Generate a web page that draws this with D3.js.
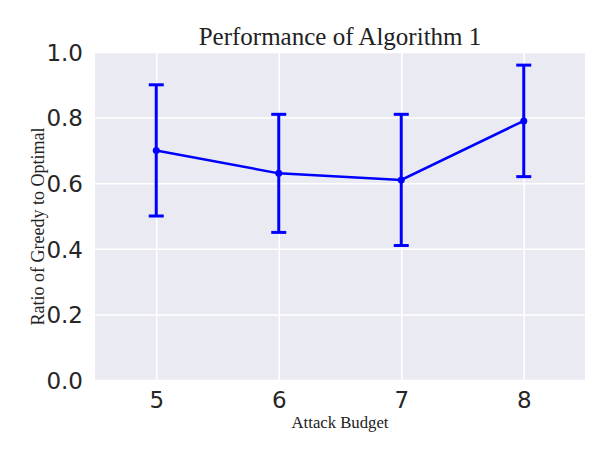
<!DOCTYPE html>
<html><head><meta charset="utf-8">
<script src="https://cdn.jsdelivr.net/npm/d3@7"></script>
<style>body{margin:0;background:#fff}</style>
</head><body>
<svg id="c" width="613" height="460"></svg>
<script>
const budgets = [5, 6, 7, 8];
const ratios = [0.70, 0.63, 0.61, 0.79];
const errLow = [0.50, 0.45, 0.41, 0.62];
const errHigh = [0.90, 0.81, 0.81, 0.96];
const yTicks = [0.0, 0.2, 0.4, 0.6, 0.8, 1.0];
const xTicks = [5, 6, 7, 8];

const svg = d3.select("#c");
const m = {l: 95, r: 585, t: 52, b: 380};
const x = d3.scaleLinear().domain([4.5, 8.5]).range([m.l, m.r]);
const y = d3.scaleLinear().domain([0, 1]).range([m.b, m.t]);

svg.append("rect").attr("x", m.l).attr("y", m.t).attr("width", m.r - m.l).attr("height", m.b - m.t).attr("fill", "#eaeaf2");

const gx = svg.append("g").attr("transform", `translate(0,${m.b})`)
  .call(d3.axisBottom(x).tickValues(xTicks).tickFormat(d3.format("d")).tickSize(-(m.b - m.t)).tickPadding(12));
const gy = svg.append("g").attr("transform", `translate(${m.l},0)`)
  .call(d3.axisLeft(y).tickValues(yTicks).tickFormat(d3.format(".1f")).tickSize(-(m.r - m.l)).tickPadding(12));
[gx, gy].forEach(g => {
  g.select(".domain").remove();
  g.selectAll(".tick line").attr("stroke", "#fff").attr("stroke-width", 1.5);
  g.selectAll(".tick text").attr("fill", "#262626").style("font-family", "DejaVu Sans").style("font-size", "23px");
});
gy.selectAll(".tick text").attr("dy", "0.36em");

const blue = "#0000ff";
const data = budgets.map((b, i) => ({b, v: ratios[i], lo: errLow[i], hi: errHigh[i]}));
svg.append("path").datum(data)
  .attr("d", d3.line().x(d => x(d.b)).y(d => y(d.v)))
  .attr("fill", "none").attr("stroke", blue).attr("stroke-width", 2.5);
const eb = svg.append("g").attr("stroke", blue).attr("stroke-width", 3);
eb.selectAll(".v").data(data).join("line")
  .attr("x1", d => x(d.b)).attr("x2", d => x(d.b)).attr("y1", d => y(d.lo)).attr("y2", d => y(d.hi));
eb.selectAll(".ct").data(data).join("line")
  .attr("x1", d => x(d.b) - 7.5).attr("x2", d => x(d.b) + 7.5).attr("y1", d => y(d.hi)).attr("y2", d => y(d.hi));
eb.selectAll(".cb").data(data).join("line")
  .attr("x1", d => x(d.b) - 7.5).attr("x2", d => x(d.b) + 7.5).attr("y1", d => y(d.lo)).attr("y2", d => y(d.lo));
svg.append("g").selectAll("circle").data(data).join("circle")
  .attr("cx", d => x(d.b)).attr("cy", d => y(d.v)).attr("r", 3.5).attr("fill", blue);

svg.append("text").attr("x", (m.l + m.r) / 2).attr("y", 45).attr("text-anchor", "middle")
  .style("font-family", "Liberation Serif").style("font-size", "25px").attr("fill", "#222")
  .text("Performance of Algorithm 1");
svg.append("text").attr("x", (m.l + m.r) / 2).attr("y", 428).attr("text-anchor", "middle")
  .style("font-family", "Liberation Serif").style("font-size", "16.7px").attr("fill", "#222")
  .text("Attack Budget");
svg.append("text").attr("transform", "translate(44,226.5) rotate(-90)").attr("text-anchor", "middle")
  .style("font-family", "Liberation Serif").style("font-size", "18px").attr("fill", "#222")
  .text("Ratio of Greedy to Optimal");
</script>
</body></html>
